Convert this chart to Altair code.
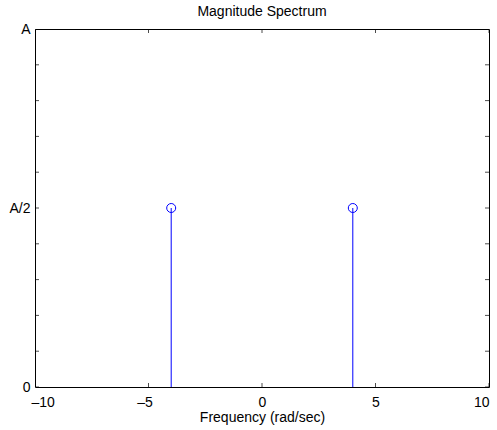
import altair as alt
import pandas as pd

# ---- data ----
freq = [-4, 4]
magnitude = [0.5, 0.5]
x_ticks = [-10, -5, 0, 5, 10]
y_ticks = [0, 0.1, 0.2, 0.3, 0.4, 0.5, 0.6, 0.7, 0.8, 0.9, 1.0]
y_label_values = [0, 0.5, 1]
y_label_texts = ["0", "A/2", "A"]
chart_title = "Magnitude Spectrum"
x_title = "Frequency (rad/sec)"

FONT = "Liberation Sans"
FS = 14
BLUE = "#0000ff"

stem_df = pd.DataFrame({"freq": freq, "mag": magnitude, "base": [0] * len(freq)})
xt_df = pd.DataFrame({"x": x_ticks * 2, "y": [0] * len(x_ticks) + [1] * len(x_ticks)})
yt_df = pd.DataFrame({"x": [-10] * len(y_ticks) + [10] * len(y_ticks), "y": y_ticks * 2})

xscale = alt.Scale(domain=[-10, 10], nice=False, zero=False)
yscale = alt.Scale(domain=[0, 1], nice=False, zero=False)

label_expr = " : ".join(
    f"datum.value == {v} ? '{t}'" for v, t in zip(y_label_values, y_label_texts)
) + " : ''"

x_axis = alt.Axis(
    values=x_ticks,
    labelExpr="replace(toString(datum.value), '-', '–')",
    labelOffset={"condition": {"test": "datum.value < 0", "value": -4}, "value": 0},
    tickSize=0,
    domain=False,
    grid=False,
    labelPadding=8,
    titlePadding=1,
    title=x_title,
)
y_axis = alt.Axis(
    values=y_label_values,
    labelExpr=label_expr,
    tickSize=0,
    domain=False,
    grid=False,
    labelPadding=5,
    title=None,
)

base_x = alt.X("freq:Q", scale=xscale, axis=x_axis)
base_y = alt.Y("mag:Q", scale=yscale, axis=y_axis)

stems = alt.Chart(stem_df).mark_rule(color=BLUE, strokeWidth=1).encode(
    x=base_x, y=base_y, y2="base:Q"
)
points = alt.Chart(stem_df).mark_point(
    shape="circle", filled=False, size=81, color=BLUE, strokeWidth=1, opacity=1
).encode(x=base_x, y=base_y)

xticks = alt.Chart(xt_df).mark_tick(
    orient="vertical", size=8, thickness=1, color="black", clip=True
).encode(x=alt.X("x:Q", scale=xscale), y=alt.Y("y:Q", scale=yscale))
yticks = alt.Chart(yt_df).mark_tick(
    orient="horizontal", size=8, thickness=1, color="black", clip=True
).encode(x=alt.X("x:Q", scale=xscale), y=alt.Y("y:Q", scale=yscale))

chart = (
    alt.layer(stems, points, xticks, yticks)
    .properties(
        width=454,
        height=358,
        autosize=alt.AutoSizeParams(type="none"),
        padding={"left": 35, "top": 29, "right": 8, "bottom": 43},
        title=alt.TitleParams(
            text=chart_title,
            font=FONT,
            fontSize=FS,
            fontWeight="normal",
            color="black",
            anchor="middle",
            baseline="alphabetic",
            offset=0,
            dy=8,
        ),
        background="white",
    )
    .configure_view(stroke="black", strokeWidth=1)
    .configure_axis(
        labelFont=FONT,
        labelFontSize=FS,
        labelColor="black",
        titleFont=FONT,
        titleFontSize=FS,
        titleFontWeight="normal",
        titleColor="black",
    )
)

chart.save("out.html", embed_options={"renderer": "svg", "actions": False})
